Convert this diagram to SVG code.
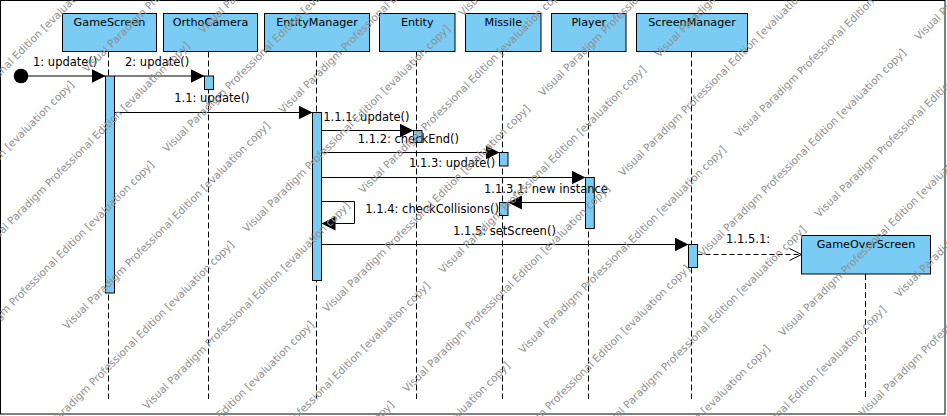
<svg xmlns="http://www.w3.org/2000/svg" width="947" height="416" viewBox="0 0 947 416">
<defs>
<style>
.box{fill:#7accf4;stroke:#000;stroke-width:1}
.act{fill:#7accf4;stroke:#000;stroke-width:1}
.life{stroke:#000;stroke-width:1;stroke-dasharray:6 3;fill:none}
.hdr{font-family:"DejaVu Sans",sans-serif;font-size:11.2px;fill:#000;text-anchor:middle}
.lbl{font-family:"DejaVu Sans",sans-serif;font-size:11.5px;fill:#000}
.msg{stroke:#000;stroke-width:1;fill:none;marker-end:url(#fa)}
.ret{stroke:#000;stroke-width:1;fill:none;stroke-dasharray:5 3;marker-end:url(#oa)}
.wm{font-family:"DejaVu Sans",sans-serif;font-size:10.6px;fill:#8f8f8f}
</style>
<marker id="fa" markerUnits="userSpaceOnUse" markerWidth="14" markerHeight="14" viewBox="0 0 13 13" refX="13" refY="6.5" orient="auto"><path d="M0,0 L13,6.5 L0,13 z" fill="#000"/></marker>
<marker id="oa" markerUnits="userSpaceOnUse" markerWidth="14" markerHeight="14" viewBox="-1 -1 14 14" refX="12" refY="6" orient="auto"><path d="M0,0 L12,6 L0,12" fill="none" stroke="#000" stroke-width="1"/></marker>
</defs>
<rect x="0" y="0" width="947" height="416" fill="#fff"/>
<rect x="0.5" y="0.5" width="944.5" height="413.5" fill="none" stroke="#000" stroke-width="1"/>

<g id="lifelines">
<line class="life" x1="108.5" y1="51.5" x2="108.5" y2="399"/>
<line class="life" x1="208.5" y1="51.5" x2="208.5" y2="399"/>
<line class="life" x1="316.5" y1="51.5" x2="316.5" y2="399"/>
<line class="life" x1="416.5" y1="51.5" x2="416.5" y2="399"/>
<line class="life" x1="502.5" y1="51.5" x2="502.5" y2="399"/>
<line class="life" x1="588.5" y1="51.5" x2="588.5" y2="399"/>
<line class="life" x1="691.5" y1="51.5" x2="691.5" y2="399"/>
<line class="life" x1="865.5" y1="274" x2="865.5" y2="399"/>
</g>

<g id="start"><circle cx="21" cy="76" r="7.3" fill="#000"/></g>
<g id="GameScreen"><rect class="box" x="62.5" y="13.5" width="94" height="38"/><text class="hdr" x="109.5" y="25.5">GameScreen</text><rect class="act" x="105.5" y="76" width="9" height="217"/></g>
<g id="OrthoCamera"><rect class="box" x="163.5" y="13.5" width="94" height="38"/><text class="hdr" x="210.5" y="25.5">OrthoCamera</text><rect class="act" x="204.5" y="76" width="9" height="13.5"/></g>
<g id="EntityManager"><rect class="box" x="264.5" y="13.5" width="105" height="38"/><text class="hdr" x="317" y="25.5">EntityManager</text><rect class="act" x="312.5" y="112.5" width="9" height="168"/></g>
<g id="Entity"><rect class="box" x="379.5" y="13.5" width="75.5" height="38"/><text class="hdr" x="417.3" y="25.5">Entity</text><rect class="act" x="413.5" y="130.5" width="8.5" height="12"/></g>
<g id="Missile"><rect class="box" x="465.5" y="13.5" width="75.5" height="38"/><text class="hdr" x="503.3" y="25.5">Missile</text><rect class="act" x="499.5" y="152.5" width="8.5" height="13.5"/><rect class="act" x="499.5" y="202.5" width="8.5" height="13"/></g>
<g id="Player"><rect class="box" x="551.5" y="13.5" width="74.5" height="38"/><text class="hdr" x="588.8" y="25.5">Player</text><rect class="act" x="585.5" y="177.5" width="8.8" height="51"/></g>
<g id="ScreenManager"><rect class="box" x="636.5" y="13.5" width="111" height="38"/><text class="hdr" x="692" y="25.5">ScreenManager</text><rect class="act" x="688.5" y="244.5" width="9" height="23"/></g>
<g id="GameOverScreen"><rect class="box" x="801.5" y="235.5" width="129" height="38.5"/><text class="hdr" x="866" y="247.5">GameOverScreen</text></g>

<g id="connectors">
<line class="msg" x1="28" y1="76" x2="105.5" y2="76"/>
<line class="msg" x1="114.5" y1="76" x2="204.5" y2="76"/>
<line class="msg" x1="114.5" y1="112.5" x2="312.5" y2="112.5"/>
<line class="msg" x1="321.5" y1="130.5" x2="413.5" y2="130.5"/>
<line class="msg" x1="321.5" y1="152.5" x2="499.5" y2="152.5"/>
<line class="msg" x1="321.5" y1="177.5" x2="585.5" y2="177.5"/>
<line class="msg" x1="585.5" y1="202.5" x2="508" y2="202.5"/>
<path class="msg" d="M321.5,201.5 H354.5 V223.5 H321.5"/>
<line class="msg" x1="321.5" y1="244.5" x2="688.5" y2="244.5"/>
<line class="ret" x1="697.5" y1="254.5" x2="801.5" y2="254.5"/>
<text class="lbl" x="33" y="66">1: update()</text>
<text class="lbl" x="125" y="66">2: update()</text>
<text class="lbl" x="174.3" y="102">1.1: update()</text>
<text class="lbl" x="323.3" y="120.7">1.1.1: update()</text>
<text class="lbl" x="357.7" y="143.3">1.1.2: checkEnd()</text>
<text class="lbl" x="409" y="166.7">1.1.3: update()</text>
<text class="lbl" x="484" y="193.3">1.1.3.1: new instance</text>
<text class="lbl" x="365.3" y="213.3">1.1.4: checkCollisions()</text>
<text class="lbl" x="453" y="235">1.1.5: setScreen()</text>
<text class="lbl" x="726" y="243.3">1.1.5.1:</text>
</g>

<g id="watermark" class="wm">
<text x="-93" y="170" transform="rotate(-45 -93 170)">Visual Paradigm Professional Edition [evaluation copy]</text>
<text x="-13" y="250" transform="rotate(-45 -13 250)">Visual Paradigm Professional Edition [evaluation copy]</text>
<text x="203" y="34" transform="rotate(-45 203 34)">Visual Paradigm Professional Edition [evaluation copy]</text>
<text x="67" y="330" transform="rotate(-45 67 330)">Visual Paradigm Professional Edition [evaluation copy]</text>
<text x="283" y="114" transform="rotate(-45 283 114)">Visual Paradigm Professional Edition [evaluation copy]</text>
<text x="147" y="410" transform="rotate(-45 147 410)">Visual Paradigm Professional Edition [evaluation copy]</text>
<text x="363" y="194" transform="rotate(-45 363 194)">Visual Paradigm Professional Edition [evaluation copy]</text>
<text x="227" y="490" transform="rotate(-45 227 490)">Visual Paradigm Professional Edition [evaluation copy]</text>
<text x="443" y="274" transform="rotate(-45 443 274)">Visual Paradigm Professional Edition [evaluation copy]</text>
<text x="659" y="58" transform="rotate(-45 659 58)">Visual Paradigm Professional Edition [evaluation copy]</text>
<text x="307" y="570" transform="rotate(-45 307 570)">Visual Paradigm Professional Edition [evaluation copy]</text>
<text x="523" y="354" transform="rotate(-45 523 354)">Visual Paradigm Professional Edition [evaluation copy]</text>
<text x="739" y="138" transform="rotate(-45 739 138)">Visual Paradigm Professional Edition [evaluation copy]</text>
<text x="603" y="434" transform="rotate(-45 603 434)">Visual Paradigm Professional Edition [evaluation copy]</text>
<text x="819" y="218" transform="rotate(-45 819 218)">Visual Paradigm Professional Edition [evaluation copy]</text>
<text x="683" y="514" transform="rotate(-45 683 514)">Visual Paradigm Professional Edition [evaluation copy]</text>
<text x="899" y="298" transform="rotate(-45 899 298)">Visual Paradigm Professional Edition [evaluation copy]</text>
<text x="87" y="73" transform="rotate(-45 87 73)">Visual Paradigm Professional Edition [evaluation copy]</text>
<text x="-129" y="289" transform="rotate(-45 -129 289)">Visual Paradigm Professional Edition [evaluation copy]</text>
<text x="-49" y="369" transform="rotate(-45 -49 369)">Visual Paradigm Professional Edition [evaluation copy]</text>
<text x="167" y="153" transform="rotate(-45 167 153)">Visual Paradigm Professional Edition [evaluation copy]</text>
<text x="31" y="449" transform="rotate(-45 31 449)">Visual Paradigm Professional Edition [evaluation copy]</text>
<text x="247" y="233" transform="rotate(-45 247 233)">Visual Paradigm Professional Edition [evaluation copy]</text>
<text x="463" y="17" transform="rotate(-45 463 17)">Visual Paradigm Professional Edition [evaluation copy]</text>
<text x="111" y="529" transform="rotate(-45 111 529)">Visual Paradigm Professional Edition [evaluation copy]</text>
<text x="327" y="313" transform="rotate(-45 327 313)">Visual Paradigm Professional Edition [evaluation copy]</text>
<text x="543" y="97" transform="rotate(-45 543 97)">Visual Paradigm Professional Edition [evaluation copy]</text>
<text x="191" y="609" transform="rotate(-45 191 609)">Visual Paradigm Professional Edition [evaluation copy]</text>
<text x="407" y="393" transform="rotate(-45 407 393)">Visual Paradigm Professional Edition [evaluation copy]</text>
<text x="623" y="177" transform="rotate(-45 623 177)">Visual Paradigm Professional Edition [evaluation copy]</text>
<text x="487" y="473" transform="rotate(-45 487 473)">Visual Paradigm Professional Edition [evaluation copy]</text>
<text x="703" y="257" transform="rotate(-45 703 257)">Visual Paradigm Professional Edition [evaluation copy]</text>
<text x="919" y="41" transform="rotate(-45 919 41)">Visual Paradigm Professional Edition [evaluation copy]</text>
<text x="567" y="553" transform="rotate(-45 567 553)">Visual Paradigm Professional Edition [evaluation copy]</text>
<text x="783" y="337" transform="rotate(-45 783 337)">Visual Paradigm Professional Edition [evaluation copy]</text>
<text x="863" y="417" transform="rotate(-45 863 417)">Visual Paradigm Professional Edition [evaluation copy]</text>
</g>
</svg>
